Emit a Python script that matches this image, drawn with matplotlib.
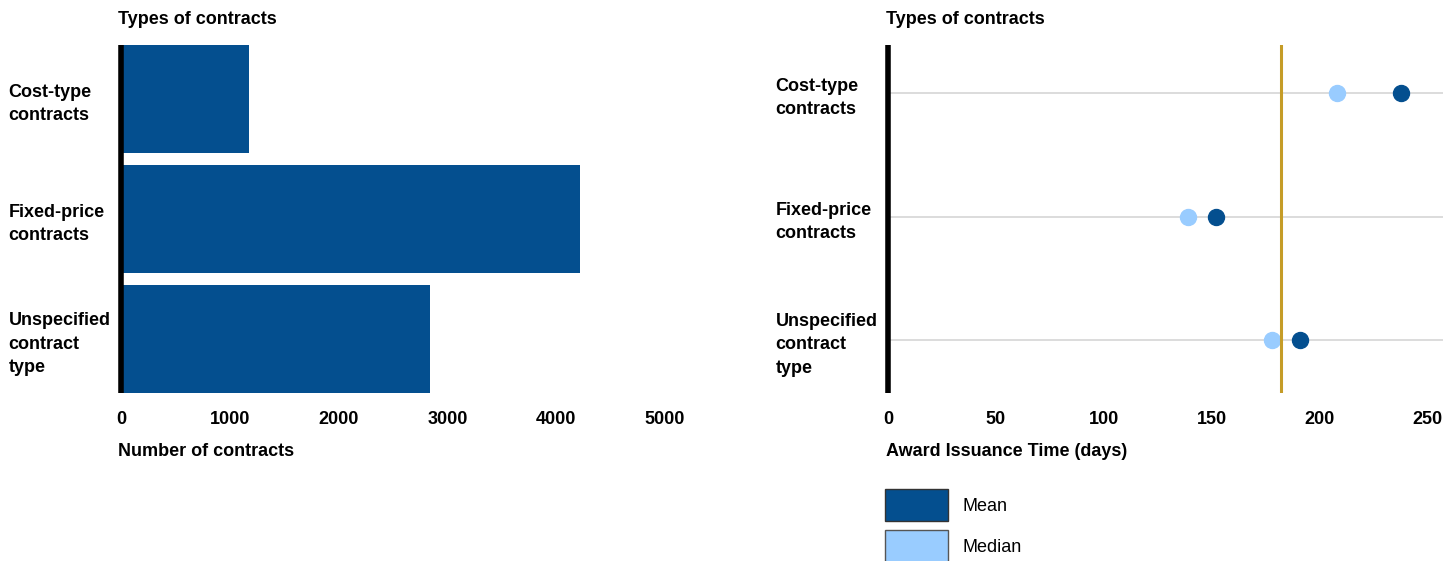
"""Contract counts and award issuance times by contract type."""

import matplotlib
matplotlib.use("Agg")
import matplotlib.pyplot as plt
from matplotlib.patches import Patch

categories = ["Cost-type\ncontracts", "Fixed-price\ncontracts", "Unspecified\ncontract\ntype"]
num_contracts = [1175, 4215, 2840]
mean_days = [237.5, 152, 191]
median_days = [208, 139, 178]
reference_days = 182

count_ticks = [0, 1000, 2000, 3000, 4000, 5000]
day_ticks = [0, 50, 100, 150, 200, 250]

DARK = "#044f8f"
LIGHT = "#99ccff"
GOLD = "#c59c27"
GRID = "#dcdcdc"

plt.rcParams["font.family"] = ["Liberation Sans", "DejaVu Sans"]
plt.rcParams["font.size"] = 13

W, H = 1456, 561
fig = plt.figure(figsize=(W / 100, H / 100), dpi=100)


def px(x0, y0, x1, y1):
    return [x0 / W, 1 - y1 / H, (x1 - x0) / W, (y1 - y0) / H]


def style_axis(ax, ypos):
    for s in ("top", "right", "bottom"):
        ax.spines[s].set_visible(False)
    ax.spines["left"].set_linewidth(4.0)
    ax.spines["left"].set_color("black")
    ax.spines["left"].set_capstyle("butt")
    ax.tick_params(axis="both", length=0)
    ax.tick_params(axis="x", pad=13)
    ax.tick_params(axis="y", pad=81)
    ax.set_yticks(ypos, categories, fontweight="bold", ha="left",
                  linespacing=1.47)
    for lab in ax.get_xticklabels():
        lab.set_fontweight("bold")


ypos = list(range(len(categories)))

# left: number of contracts
ax1 = fig.add_axes(px(121, 45, 665, 393))
ax1.barh(ypos, num_contracts, height=0.9, color=DARK)
ax1.set_xlim(0, 5000)
ax1.set_ylim(2.45, -0.45)
ax1.set_xticks(count_ticks)
style_axis(ax1, ypos)
fig.text(118 / W, 1 - 20 / H, "Types of contracts", fontweight="bold", va="center", ha="left")
fig.text(118 / W, 1 - 451 / H, "Number of contracts", fontweight="bold", va="center", ha="left")

# right: award issuance time
ax2 = fig.add_axes(px(888, 45, 1443, 393))
for y in ypos:
    ax2.axhline(y, color=GRID, linewidth=1.4, zorder=1)
ax2.plot(median_days, ypos, "o", color=LIGHT, markersize=11.5, zorder=3)
ax2.plot(mean_days, ypos, "o", color=DARK, markersize=11.5, zorder=3)
ax2.axvline(reference_days, color=GOLD, linewidth=2.2, zorder=4)
ax2.set_xlim(0, 257)
ax2.set_ylim(2.43, -0.39)
ax2.set_xticks(day_ticks)
style_axis(ax2, ypos)
fig.text(886 / W, 1 - 20 / H, "Types of contracts", fontweight="bold", va="center", ha="left")
fig.text(886 / W, 1 - 451 / H, "Award Issuance Time (days)", fontweight="bold", va="center", ha="left")

handles = [Patch(facecolor=DARK, edgecolor="#333333", linewidth=1),
           Patch(facecolor=LIGHT, edgecolor="#555555", linewidth=1)]
fig.legend(handles, ["Mean", "Median"], loc="upper left",
           bbox_to_anchor=(885 / W, 1 - 489 / H), frameon=False, borderpad=0,
           borderaxespad=0, handlelength=3.49, handleheight=2.35,
           handletextpad=0.83, labelspacing=0.5, fontsize=13)

fig.savefig("out.png", dpi=100)
